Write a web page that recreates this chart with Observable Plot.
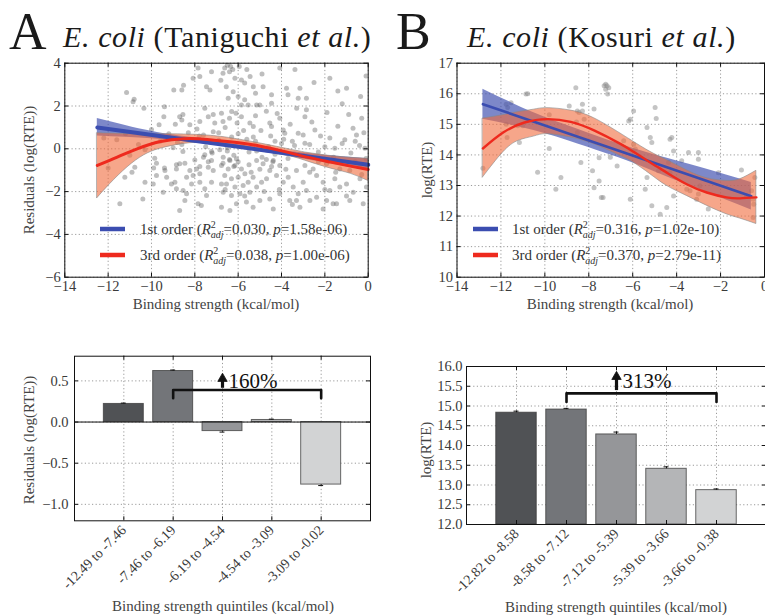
<!DOCTYPE html>
<html><head><meta charset="utf-8">
<script src="https://cdn.jsdelivr.net/npm/d3@7"></script>
<script src="https://cdn.jsdelivr.net/npm/@observablehq/plot@0.6"></script>
<style>
html,body{margin:0;padding:0;background:#fff;overflow:hidden}
#fig{position:relative;width:765px;height:616px;overflow:hidden;background:#fff}
#fig svg{position:absolute}
#fig svg text{font-family:'Liberation Serif','Times New Roman',serif}
</style></head>
<body><div id="fig"></div>
<script>
// ---------- DATA ----------
const scatterXTicks = [-14,-12,-10,-8,-6,-4,-2,0];
const yTicksA = [-6,-4,-2,0,2,4];
const yTicksB = [10,11,12,13,14,15,16,17];

const pointsA = [
[-11.15,2.63],[-10.8,2.32],[-10.85,2.2],[-10.35,1.9],[-9.4,1.97],[-9.43,1.5],[-9.65,1.12],[-8.9,1.15],[-8.7,1.5],[-8.55,1.6],[-8.6,1.35],[-8.52,2.97],[-8.97,2.75],[-8.6,2.75],[-8.08,3.3],[-7.85,3.77],[-7.77,3.38],[-7.46,2.9],[-7.3,2.75],[-7.23,3.6],[-8.23,1.12],[-7.77,1.27],[-7.38,1.5],[-7.15,1.6],[-7.08,1.2],[-7.54,1.9],[-7.9,0.92],[-7.6,0.65],[-7.15,0.8],[-8.55,-0.13],[-9.85,-0.44],[-9.77,-0.67],[-8.85,-0.75],[-8.46,-0.67],[-8.0,-0.52],[-7.77,-0.83],[-7.38,-0.6],[-7.54,-0.28],[-7.23,-0.13],[-9.4,-0.9],[-11.6,0.42],
[-6.5,3.9],[-6.35,3.85],[-6.62,3.77],[-6.4,3.6],[-6.25,3.7],[-6.7,3.53],[-5.6,3.7],[-5.45,3.38],[-5.85,3.22],[-5.7,3.07],[-5.3,2.9],[-6.23,2.67],[-6.46,2.36],[-6.0,2.44],[-5.7,2.29],[-4.85,2.9],[-4.46,2.52],[-4.08,3.77],[-3.38,3.7],[-3.77,2.83],[-3.7,2.52],[-3.15,2.83],[-3.23,2.36],[-2.85,2.36],[-4.46,2.13],[-5.0,2.05],[-5.15,2.05],[-5.54,2.05],[-5.85,2.05],[-1.77,3.3],[-1.0,2.83],[-0.35,2.44],[-6.77,1.66],[-6.7,1.27],[-6.3,1.74],[-6.4,1.43],[-6.1,1.66],[-5.85,1.5],[-5.46,1.2],[-5.3,1.04],[-4.54,1.2],[-4.46,1.04],[-4.08,1.43],[-3.92,0.88],[-3.85,0.73],[-3.23,0.73],[-3.0,0.65],[-2.92,1.5],[-2.85,1.82],[-2.46,0.88],[-2.92,0.26],[-1.77,0.5],[-1.54,0.03],[-1.08,0.42],[-0.7,0.96],[-0.54,0.65],[-0.3,1.43],[-0.15,0.03],[-6.85,-0.05],[-6.5,-0.1],[-6.4,-0.5],[-6.7,-0.67],[-6.2,-0.83],[-5.5,-0.75],[-4.7,-0.5],[-4.4,-0.6],[-4.46,-0.83],[-5.15,-0.1],
[-11.46,-2.57],[-10.4,-2.34],[-10.9,-1.09],[-10.77,-0.86],[-11.23,-1.33],[-10.3,-1.56],[-9.92,-1.64],[-9.77,-1.25],[-9.38,-1.01],[-9.3,-1.33],[-9.08,-1.64],[-9.46,-2.03],[-8.85,-0.94],[-8.7,-0.7],[-8.92,-1.56],[-8.85,-1.87],[-8.54,-1.95],[-8.7,-2.88],[-8.38,-1.33],[-8.23,-1.01],[-8.08,-1.25],[-7.92,-0.94],[-7.77,-1.17],[-8.15,-1.64],[-7.77,-1.56],[-7.54,-1.87],[-7.23,-1.56],[-7.46,-2.18],[-7.85,-2.57],[-7.7,-2.65],[-7.23,-0.55],[-7.38,-0.86],[-7.15,-1.01],[-7.6,-0.39],[-8.38,-2.1],[-8.46,-2.42],
[-6.69,-0.39],[-6.38,-0.55],[-6.08,-0.47],[-6.77,-0.78],[-6.46,-0.94],[-6.15,-0.78],[-5.85,-0.94],[-6.62,-1.25],[-6.31,-1.4],[-6.0,-1.33],[-5.69,-1.17],[-5.54,-1.56],[-6.54,-1.64],[-6.15,-1.79],[-5.77,-1.72],[-6.69,-2.03],[-6.31,-2.18],[-5.92,-2.1],[-5.46,-2.03],[-5.15,-1.79],[-4.92,-1.56],[-5.31,-1.33],[-4.69,-1.4],[-4.54,-1.01],[-4.23,-1.25],[-3.92,-1.56],[-3.69,-1.33],[-3.46,-1.79],[-3.23,-2.1],[-3.0,-1.56],[-2.85,-1.95],[-2.38,-1.25],[-2.08,-1.56],[-1.77,-1.95],[-1.54,-1.4],[-1.31,-1.79],[-1.0,-1.64],[-0.69,-2.03],[-0.38,-1.4],[-0.08,-1.79],[-5.0,-2.42],[-4.54,-2.34],[-4.08,-2.1],[-3.62,-2.42],[-3.31,-2.42],[-2.69,-2.42],[-2.38,-2.26],[-1.92,-2.42],[-1.46,-2.57],[-0.85,-2.42],[-0.23,-2.57],[-6.08,-2.57],[-5.62,-2.49],[-5.31,-2.73],[-6.77,-2.73],[-6.38,-2.88],[-4.38,-2.81],[-3.15,-2.73],[-2.08,-2.81],[-1.62,-2.57],[-6.77,-1.64],[-4.85,-0.7],[-5.15,-0.55],[-4.38,-0.55],[-4.08,-0.78],[-3.31,-1.01],[-2.92,-0.78],[-2.54,-0.94],[-1.92,-0.7],[-1.31,-0.94],[-0.85,-1.01],[-0.38,-0.78],[-0.02,-0.86],
[-7.5,0.1],[-7.2,-0.2],[-6.8,0.3],[-6.5,0.05],[-6.2,-0.3],[-5.8,0.2],[-5.5,-0.15],[-5.2,0.35],[-4.9,-0.4],[-4.6,0.1],[-4.3,-0.25],[-4.0,0.25],[-3.7,-0.45],[-3.4,0.15],[-3.0,-0.3],[-2.7,0.2],[-2.3,-0.15],[-2.0,0.1],[-1.6,-0.4],[-1.2,0.25],[-0.8,-0.2],[-0.4,0.15],[-0.1,-0.45],[-8.2,0.45],[-7.8,0.6],[-6.9,0.75],[-6.0,0.7],[-5.3,0.55],[-4.5,0.6],[-3.9,0.45],[-8.6,0.2],[-9.0,0.05],[-9.6,0.35],[-10.3,-0.05],[-11.2,0.7],[-12.2,0.5],
[-6.9,0.4],[-6.6,1.0],[-6.3,0.55],[-6.05,1.2],[-5.75,0.85],[-5.6,0.45],[-5.2,1.55],[-4.95,0.85],[-4.7,1.75],[-4.3,0.35],[-4.2,1.65],[-3.6,1.15],[-3.5,0.35],[-3.3,1.9],[-2.6,1.25],[-2.2,0.6],[-1.9,1.7],[-1.4,1.05],[-1.2,2.1],[-0.9,1.6],[-0.6,0.35],[-0.2,0.75],[-6.6,-1.9],[-6.0,-0.6],[-5.7,-2.2],[-5.4,-1.1],[-5.0,-0.95],[-4.8,-2.0],[-4.1,-1.9],[-3.8,-0.95],[-3.5,-2.6],[-2.7,-1.1],[-2.3,-0.6],[-2.0,-1.9],[-1.5,-1.1],[-1.0,-2.2],[-0.6,-0.6],[-0.3,-1.2],[-9.2,0.7],[-10.0,0.9],[-10.6,0.2],[-11.0,-0.3],[-9.9,-0.9],[-12.0,-0.9],[-8.3,0.75],[-8.8,0.3],[-6.55,2.9],[-6.15,3.3],[-5.95,3.85],[-6.8,3.2],[-4.9,3.5],[-5.2,2.6],[-2.5,3.1],[-1.4,2.7],[-0.1,3.4]
];

const linFitA = [{x:-12.5,y:1.0},{x:-6.25,y:0.13},{x:0,y:-0.75}];
const linBandA = [
{x:-12.5,lo:0.60,hi:1.42},{x:-10,lo:0.47,hi:0.82},{x:-8,lo:0.28,hi:0.50},{x:-6,lo:0.03,hi:0.19},
{x:-4,lo:-0.30,hi:-0.08},{x:-2,lo:-0.65,hi:-0.30},{x:0,lo:-1.02,hi:-0.46}];
const cubFitA = [
{x:-12.5,y:-0.78},{x:-11.58,y:-0.39},{x:-10.66,y:0.0},{x:-9.58,y:0.34},{x:-8.51,y:0.47},{x:-7.43,y:0.44},
{x:-5.97,y:0.28},{x:-4.97,y:0.12},{x:-3.89,y:-0.12},{x:-2.82,y:-0.39},{x:-1.74,y:-0.62},{x:-0.82,y:-0.81},{x:0,y:-0.97}];
const cubBandA = [
{x:-12.5,lo:-2.31,hi:0.73},{x:-11.9,lo:-1.64,hi:0.71},{x:-11.1,lo:-0.86,hi:0.69},{x:-10.35,lo:-0.31,hi:0.68},
{x:-9.6,lo:0.0,hi:0.68},{x:-8.5,lo:0.23,hi:0.67},{x:-7.4,lo:0.28,hi:0.62},{x:-6,lo:0.12,hi:0.44},
{x:-4,lo:-0.25,hi:0.05},{x:-2.8,lo:-0.59,hi:-0.19},{x:-1.7,lo:-0.93,hi:-0.34},{x:-0.8,lo:-1.17,hi:-0.42},{x:0,lo:-1.5,hi:-0.47}];

const pointsB = [
[-12.82,13.56],[-11.76,15.66],[-11.69,15.55],[-11.54,15.71],[-10.86,15.99],[-10.78,16.0],[-11.72,14.57],[-11.16,14.41],[-11.76,15.0],[-11.24,14.95],[-11.01,14.95],[-10.33,13.43],[-9.8,14.21],[-9.8,15.31],[-9.27,13.26],[-9.5,12.88],[-8.89,15.6],[-8.59,16.2],[-8.29,15.66],[-8.36,13.75],[-8.52,15.44],[-8.44,15.39],[-8.29,15.44],[-8.21,15.17],[-8.56,15.08],[-8.52,14.73],[-7.83,13.48],[-7.76,15.5],[-7.76,12.93],[-7.53,13.15],[-7.43,12.61],[-7.53,13.91],[-7.3,16.26],[-7.23,16.31],[-7.23,16.15],
[-7.17,16.26],[-7.09,16.2],[-7.14,15.99],[-5.96,15.44],[-6.11,15.17],[-6.18,15.11],[-4.98,15.55],[-4.93,15.19],[-5.35,14.9],[-5.2,14.57],[-5.13,14.41],[-4.3,14.51],[-4.22,14.57],[-4.14,14.13],[-3.46,14.08],[-3.01,14.08],[-3.01,13.86],[-3.77,13.81],[-4.37,13.75],[-2.1,13.42],[-1.05,13.51],[-0.44,13.26],[-6.41,14.46],[-5.96,14.35],[-5.88,14.19],[-6.71,13.64],[-7.02,13.92],[-7.35,12.61],[-6.11,12.55],[-5.35,13.26],[-5.13,12.34],[-4.45,12.28],[-4.83,13.48],[-4.3,13.42],[-4.14,12.66],[-3.54,12.88],[-3.39,12.83],[-3.09,12.55],[-3.01,12.72],[-2.56,12.23],[-2.94,12.99],[-0.59,12.83],[-0.52,12.55],[-0.49,12.39],[-0.52,11.95],[-0.82,12.66],[-5.43,12.88],[-4.75,12.06]
];
const linFitB = [{x:-12.82,y:15.66},{x:-6.7,y:14.15},{x:-0.6,y:12.65}];
const linBandB = [
{x:-12.82,lo:15.17,hi:16.15},{x:-10.5,lo:14.8,hi:15.38},{x:-8.5,lo:14.36,hi:14.84},{x:-6.7,lo:13.92,hi:14.38},
{x:-4.9,lo:13.42,hi:13.98},{x:-2.9,lo:12.85,hi:13.59},{x:-0.6,lo:12.2,hi:13.1}];
const cubFitB = [
{x:-12.82,y:14.21},{x:-11.9,y:14.73},{x:-10.93,y:15.06},{x:-9.88,y:15.17},{x:-8.82,y:15.08},{x:-7.76,y:14.8},
{x:-6.56,y:14.36},{x:-5.96,y:14.1},{x:-5.2,y:13.75},{x:-4.45,y:13.42},{x:-3.54,y:13.04},{x:-2.63,y:12.77},
{x:-1.73,y:12.61},{x:-1.12,y:12.58},{x:-0.37,y:12.61}];
const cubBandB = [
{x:-12.82,lo:13.26,hi:15.19},{x:-11.9,lo:14.08,hi:15.3},{x:-11.2,lo:14.46,hi:15.4},{x:-10.5,lo:14.6,hi:15.48},
{x:-9.88,lo:14.68,hi:15.53},{x:-8.82,lo:14.57,hi:15.45},{x:-7.76,lo:14.35,hi:15.2},{x:-6.56,lo:13.97,hi:14.7},
{x:-5.96,lo:13.75,hi:14.43},{x:-5.2,lo:13.37,hi:14.1},{x:-4.45,lo:12.99,hi:13.83},{x:-3.54,lo:12.66,hi:13.5},
{x:-2.63,lo:12.34,hi:13.24},{x:-1.73,lo:12.06,hi:13.15},{x:-1.12,lo:11.92,hi:13.2},{x:-0.37,lo:11.74,hi:13.48}];

const legendOrders = ["1st order","3rd order"];
const legendR2A = ["0.030","0.038"], legendPA = ["1.58e-06","1.00e-06"];
const legendR2B = ["0.316","0.370"], legendPB = ["1.02e-10","2.79e-11"];

const quintilesC = ["-12.49 to -7.46","-7.46 to -6.19","-6.19 to -4.54","-4.54 to -3.09","-3.09 to -0.02"];
const valuesC = [0.22, 0.62, -0.11, 0.025, -0.76];
const errorsC = [0.01, 0.012, 0.012, 0.01, 0.012];
const yTicksC = [-1.0,-0.5,0.0,0.5];
const quintilesD = ["-12.82 to -8.58","-8.58 to -7.12","-7.12 to -5.39","-5.39 to -3.66","-3.66 to -0.38"];
const valuesD = [14.83, 14.91, 14.28, 13.41, 12.87];
const errorsD = [0.04, 0.03, 0.06, 0.05, 0.03];
const yTicksD = [12.0,12.5,13.0,13.5,14.0,14.5,15.0,15.5,16.0];
const barFills = ["#505255","#737579","#959699","#b4b5b7","#d2d3d4"];
const increaseC = {label:"160%", from:2, to:5, top:0.39, drop:0.1, arrowLo:0.41, arrowHead:0.527, textY:0.5};
const increaseD = {label:"313%", from:2, to:5, top:15.32, drop:0.22, arrowLo:15.39, arrowHead:15.74, textY:15.63};

// ---------- DRAWING ----------
const FONT = "'Liberation Serif','Times New Roman',serif";
const BLUE = "#3b4db0", RED = "#ee2a1e", BLUE_BAND = "#3f50b0", RED_BAND = "#f06a3c";
const fmtMinus = d => (d < 0 ? "\u2212" : "") + Math.abs(d);
const fmt1 = d => (d < 0 ? "\u2212" : "") + Math.abs(d).toFixed(1);
const grid = {stroke:"#9a9a9a", strokeOpacity:1, strokeDasharray:"1.2,2.4", strokeWidth:1};
const fig = document.getElementById("fig");

function inwardTicks(xt, yt, fw, fh) {
  return [
    Plot.tickY(yt, {y:d=>d, insetRight: fw-4, stroke:"#111"}),
    Plot.tickY(yt, {y:d=>d, insetLeft: fw-4, stroke:"#111"}),
    Plot.tickX(xt, {x:d=>d, insetTop: fh-4, stroke:"#111"}),
    Plot.tickX(xt, {x:d=>d, insetBottom: fh-4, stroke:"#111"})
  ];
}

function scatterPanel(o) {
  const fw = o.width - o.ml - o.mr, fh = o.height - o.mt - o.mb;
  const svg = Plot.plot({
    width:o.width, height:o.height, marginLeft:o.ml, marginRight:o.mr, marginTop:o.mt, marginBottom:o.mb,
    style:{fontFamily:FONT, fontSize:"14.5px", color:"#3a3a3a", background:"transparent", overflow:"visible"},
    x:{domain:[-14,0]}, y:{domain:o.yDom},
    marks:[
      Plot.gridX(scatterXTicks, grid),
      Plot.gridY(o.yTicks, grid),
      Plot.dot(o.points, {x:d=>d[0], y:d=>d[1], r:2.5, fill:o.dotFill, fillOpacity:o.dotOpacity, clip:true}),
      Plot.areaY(o.linBand, {x:"x", y1:"lo", y2:"hi", curve:"natural", fill:BLUE_BAND, fillOpacity:0.68}),
      Plot.areaY(o.cubBand, {x:"x", y1:"lo", y2:"hi", curve:"natural", fill:RED_BAND, fillOpacity:0.6, stroke:"#888", strokeWidth:0.6}),
      Plot.line(o.linFit, {x:"x", y:"y", stroke:BLUE, strokeWidth:o.lw1}),
      Plot.line(o.cubFit, {x:"x", y:"y", curve:"natural", stroke:RED, strokeWidth:o.lw3}),
      Plot.frame({stroke:"#111"}),
      ...inwardTicks(scatterXTicks, o.yTicks, fw, fh),
      Plot.axisX(scatterXTicks, {tickSize:0, tickPadding:4, tickFormat:fmtMinus, label:null}),
      Plot.axisY(o.yTicks, {tickSize:0, tickPadding:4, tickFormat:fmtMinus, label:null})
    ]
  });
  svg.style.left = o.left + "px"; svg.style.top = o.top + "px";
  fig.appendChild(svg);
}

function barPanel(o) {
  const fw = o.width - o.ml - o.mr, fh = o.height - o.mt - o.mb;
  const pos = o.labels.map((_, i) => i + 1);
  const data = o.labels.map((lab, i) => ({pos:i+1, v:o.values[i], e:o.errors[i], fill:barFills[i]}));
  const errEnd = d => d.v + (d.v < 0 ? -d.e : d.e);
  const inc = o.inc;
  const bracket = [{x:inc.from,y:inc.top-inc.drop},{x:inc.from,y:inc.top},{x:inc.to,y:inc.top},{x:inc.to,y:inc.top-inc.drop}];
  const svg = Plot.plot({
    width:o.width, height:o.height, marginLeft:o.ml, marginRight:o.mr, marginTop:o.mt, marginBottom:o.mb,
    style:{fontFamily:FONT, fontSize:"14.5px", color:"#3a3a3a", background:"transparent", overflow:"visible"},
    x:{domain:[0,6]}, y:{domain:o.yDom}, color:{type:"identity"},
    marks:[
      Plot.gridX(pos, grid),
      Plot.gridY(o.yTicks, grid),
      Plot.rectY(data, {x1:d=>d.pos-0.405, x2:d=>d.pos+0.405, y1:o.base, y2:"v", fill:"fill", stroke:"#3a3a3a", strokeOpacity:0.75, strokeWidth:1}),
      Plot.ruleX(data, {x:"pos", y1:"v", y2:errEnd, stroke:"#111"}),
      Plot.ruleY(data, {y:errEnd, x1:d=>d.pos-0.05, x2:d=>d.pos+0.05, stroke:"#111"}),
      o.zeroLine ? Plot.ruleY([0], {stroke:"#111", strokeWidth:1}) : null,
      Plot.line(bracket, {x:"x", y:"y", stroke:"#111", strokeWidth:2.6}),
      Plot.ruleX([inc], {x:d=>3, y1:"arrowLo", y2:"arrowHead", stroke:"#111", strokeWidth:3.2}),
      Plot.dot([inc], {x:d=>3, y:"arrowHead", symbol:"triangle", r:3.5, fill:"#111", stroke:"#111", strokeWidth:0.8}),
      Plot.text([inc], {x:d=>3, y:"textY", text:"label", textAnchor:"start", dx:6, fontSize:21, fill:"#111", lineAnchor:"middle"}),
      Plot.frame({stroke:"#111"}),
      ...inwardTicks(pos, o.yTicks, fw, fh),
      Plot.axisX(pos, {tickSize:0, tickPadding:7, tickRotate:-45, tickFormat:d=>o.labels[d-1], label:null, fontSize:14}),
      Plot.axisY(o.yTicks, {tickSize:0, tickPadding:o.ypad, tickFormat:fmt1, label:null})
    ]
  });
  svg.style.left = o.left + "px"; svg.style.top = o.top + "px";
  fig.appendChild(svg);
}

scatterPanel({left:0, top:50, width:380, height:265, ml:64.3, mr:12.3, mt:12.7, mb:38.3,
  yDom:[-6,4], yTicks:yTicksA, points:pointsA, dotFill:"#555", dotOpacity:0.38,
  linFit:linFitA, linBand:linBandA, cubFit:cubFitA, cubBand:cubBandA, lw1:4, lw3:3});
scatterPanel({left:385, top:50, width:380, height:265, ml:71.5, mr:1, mt:12.7, mb:38.3,
  yDom:[10,17], yTicks:yTicksB, points:pointsB, dotFill:"#8a8a8a", dotOpacity:0.5,
  linFit:linFitB, linBand:linBandB, cubFit:cubFitB, cubBand:cubBandB, lw1:2.6, lw3:2.4});
barPanel({left:0, top:340, width:380, height:276, ml:74, mr:10, mt:15.7, mb:95.7,
  yDom:[-1.2,0.8], yTicks:yTicksC, labels:quintilesC, values:valuesC, errors:errorsC, base:0, zeroLine:true, inc:increaseC, ypad:6});
barPanel({left:385, top:340, width:381, height:276, ml:81, mr:0, mt:26, mb:92,
  yDom:[12,16], yTicks:yTicksD, labels:quintilesD, values:valuesD, errors:errorsD, base:12, zeroLine:false, inc:increaseD, ypad:4});

// ---------- TEXT OVERLAY ----------
const ov = d3.create("svg").attr("width",765).attr("height",616)
  .style("left","0px").style("top","0px").style("pointer-events","none");
function title(x, letter, lx, name) {
  ov.append("text").attr("x", x).attr("y", 49).attr("font-size", 52).attr("fill","#1a1a1a").text(letter);
  const t = ov.append("text").attr("x", lx).attr("y", 47).attr("font-size", 30).attr("letter-spacing", 0.6).attr("fill","#1a1a1a");
  t.append("tspan").attr("font-style","italic").text("E. coli");
  t.append("tspan").text(" (" + name + " ");
  t.append("tspan").attr("font-style","italic").text("et al.");
  t.append("tspan").text(")");
}
title(9, "A", 63, "Taniguchi");
title(396, "B", 467, "Kosuri");

function xlabel(cx, y, s) {
  ov.append("text").attr("x", cx).attr("y", y).attr("text-anchor","middle").attr("font-size",15).attr("fill","#444").text(s);
}
function ylabel(x, cy, s) {
  ov.append("text").attr("transform", `translate(${x},${cy}) rotate(-90)`).attr("text-anchor","middle").attr("font-size",15).attr("fill","#444").text(s);
}
xlabel(216, 309, "Binding strength (kcal/mol)");
xlabel(610, 309, "Binding strength (kcal/mol)");
xlabel(223, 611, "Binding strength quintiles (kcal/mol)");
xlabel(616, 612, "Binding strength quintiles (kcal/mol)");
ylabel(34, 170, "Residuals (log(RTE))");
ylabel(432, 170, "log(RTE)");
ylabel(34, 440, "Residuals (log(RTE))");
ylabel(431, 450, "log(RTE)");

function legend(x0, tx, r2s, ps) {
  [BLUE, RED].forEach((c, i) => {
    const y = 229 + i * 26;
    ov.append("line").attr("x1", x0).attr("x2", x0 + 25).attr("y1", y).attr("y2", y).attr("stroke", c).attr("stroke-width", 4.5);
    const t = ov.append("text").attr("x", tx).attr("y", y + 5).attr("font-size", 15).attr("fill","#333");
    t.append("tspan").text(legendOrders[i] + " (");
    t.append("tspan").attr("font-style","italic").text("R");
    t.append("tspan").attr("font-size",10).attr("dy",-6).text("2");
    t.append("tspan").attr("font-size",10).attr("font-style","italic").attr("dx",-5).attr("dy",10).text("adj");
    t.append("tspan").attr("dy",-4).text("=" + r2s[i] + ", ");
    t.append("tspan").attr("font-style","italic").text("p");
    t.append("tspan").text("=" + ps[i] + ")");
  });
}
legend(100, 140, legendR2A, legendPA);
legend(473, 512, legendR2B, legendPB);
fig.appendChild(ov.node());
</script>
</body></html>
